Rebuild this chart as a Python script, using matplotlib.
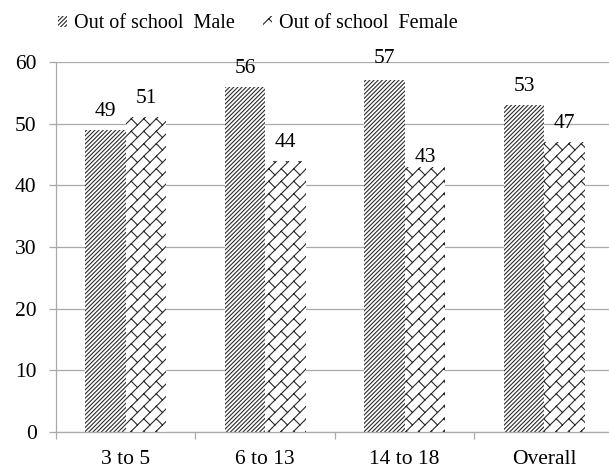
import warnings

import numpy as np
import matplotlib
matplotlib.use("Agg")
import matplotlib.pyplot as plt
from matplotlib import hatch as mhatch
from matplotlib.path import Path
from matplotlib.ticker import FixedLocator, NullFormatter

# ---- data -------------------------------------------------------------
categories = ["3 to 5", "6 to 13", "14 to 18", "Overall"]
male = [49, 56, 57, 53]
female = [51, 44, 43, 47]
series_names = ["Out of school  Male", "Out of school  Female"]
y_ticks = [0, 10, 20, 30, 40, 50, 60]

# vertical nudges (points) for a few data labels that sit off the default spot
label_nudge = {("male", 2): 2.5, ("female", 2): -6.5}


# ---- custom "brick" hatch: rising lines joined by staggered short segments
class BrickHatch(mhatch.HatchPatternBase):
    def __init__(self, hatch, density):
        count = hatch.count("b")
        self.segments = []
        if count:
            n = 8 * count
            h = 1.0 / n
            for k in range(-n, n + 1):
                self.segments.append(((0.0, k * h), (1.0, 1.0 + k * h)))
            for k in range(-n, n):
                for m in range(-n, 2 * n):
                    x0 = h * m + ((k % 2) - k) * h / 2.0
                    y0 = x0 + k * h
                    x1, y1 = x0 - h / 2.0, y0 + h / 2.0
                    if (-h <= x0 <= 1 + h) and (-h <= y0 <= 1 + h):
                        self.segments.append(((x0, y0), (x1, y1)))
        self.num_vertices = 2 * len(self.segments)

    def set_vertices_and_codes(self, vertices, codes):
        for i, (p0, p1) in enumerate(self.segments):
            vertices[2 * i] = p0
            vertices[2 * i + 1] = p1
            codes[2 * i] = Path.MOVETO
            codes[2 * i + 1] = Path.LINETO


mhatch._hatch_types.append(BrickHatch)
warnings.filterwarnings("ignore", message=".*hatch must consist.*")

# ---- styling ----------------------------------------------------------
plt.rcParams["font.family"] = ["Liberation Serif", "DejaVu Serif"]
plt.rcParams["hatch.linewidth"] = 0.8
grid_color = "#a9a9a9"
hatch_color = "#2a2a2a"

fig = plt.figure(figsize=(6.09, 4.69), dpi=100)
ax = fig.add_axes([56 / 609, 1 - 432 / 469, 558 / 609, 370 / 469])

x = np.arange(len(categories))
width = 0.29

bars_m = ax.bar(x - width / 2, male, width, facecolor="white",
                edgecolor=hatch_color, linewidth=0, hatch="/" * 8,
                label=series_names[0], zorder=2)
bars_f = ax.bar(x + width / 2, female, width, facecolor="white",
                edgecolor=hatch_color, linewidth=0, hatch="b",
                label=series_names[1], zorder=2)

for name, bars, vals in (("male", bars_m, male), ("female", bars_f, female)):
    for i, (rect, v) in enumerate(zip(bars, vals)):
        dy = 6.5 + label_nudge.get((name, i), 0)
        ax.annotate(f"{v}", (rect.get_x() + rect.get_width() / 2, v),
                    xytext=(0, dy), textcoords="offset points",
                    ha="center", va="bottom", fontsize=15.5, color="black",
                    annotation_clip=False)

ax.set_xlim(-0.5, len(categories) - 0.5)
ax.set_ylim(0, 60)

# y axis
ax.set_yticks(y_ticks)
ax.tick_params(axis="y", length=5, width=0.9, color=grid_color, pad=9,
               labelsize=15.5)
ax.yaxis.grid(True, color=grid_color, linewidth=0.9, zorder=0)
ax.set_axisbelow(True)

# x axis: boundary ticks, centred labels
ax.xaxis.set_major_locator(FixedLocator(np.arange(-0.5, len(categories), 1.0)))
ax.xaxis.set_major_formatter(NullFormatter())
ax.xaxis.set_minor_locator(FixedLocator(x))
ax.set_xticklabels(categories, minor=True)
ax.tick_params(axis="x", which="major", length=5, width=0.9, color=grid_color)
ax.tick_params(axis="x", which="minor", length=0, pad=13, labelsize=15.5)

for side in ("top", "right"):
    ax.spines[side].set_visible(False)
for side in ("left", "bottom"):
    ax.spines[side].set_color(grid_color)
    ax.spines[side].set_linewidth(0.9)

fig.legend(handles=[bars_m, bars_f], labels=series_names,
           loc="center", bbox_to_anchor=(258 / 609, 1 - 24 / 469),
           ncol=2, frameon=False, fontsize=14.5,
           handlelength=0.45, handleheight=0.45, handletextpad=0.35,
           columnspacing=1.4, borderpad=0.2)

fig.savefig("out.png", dpi=100)
